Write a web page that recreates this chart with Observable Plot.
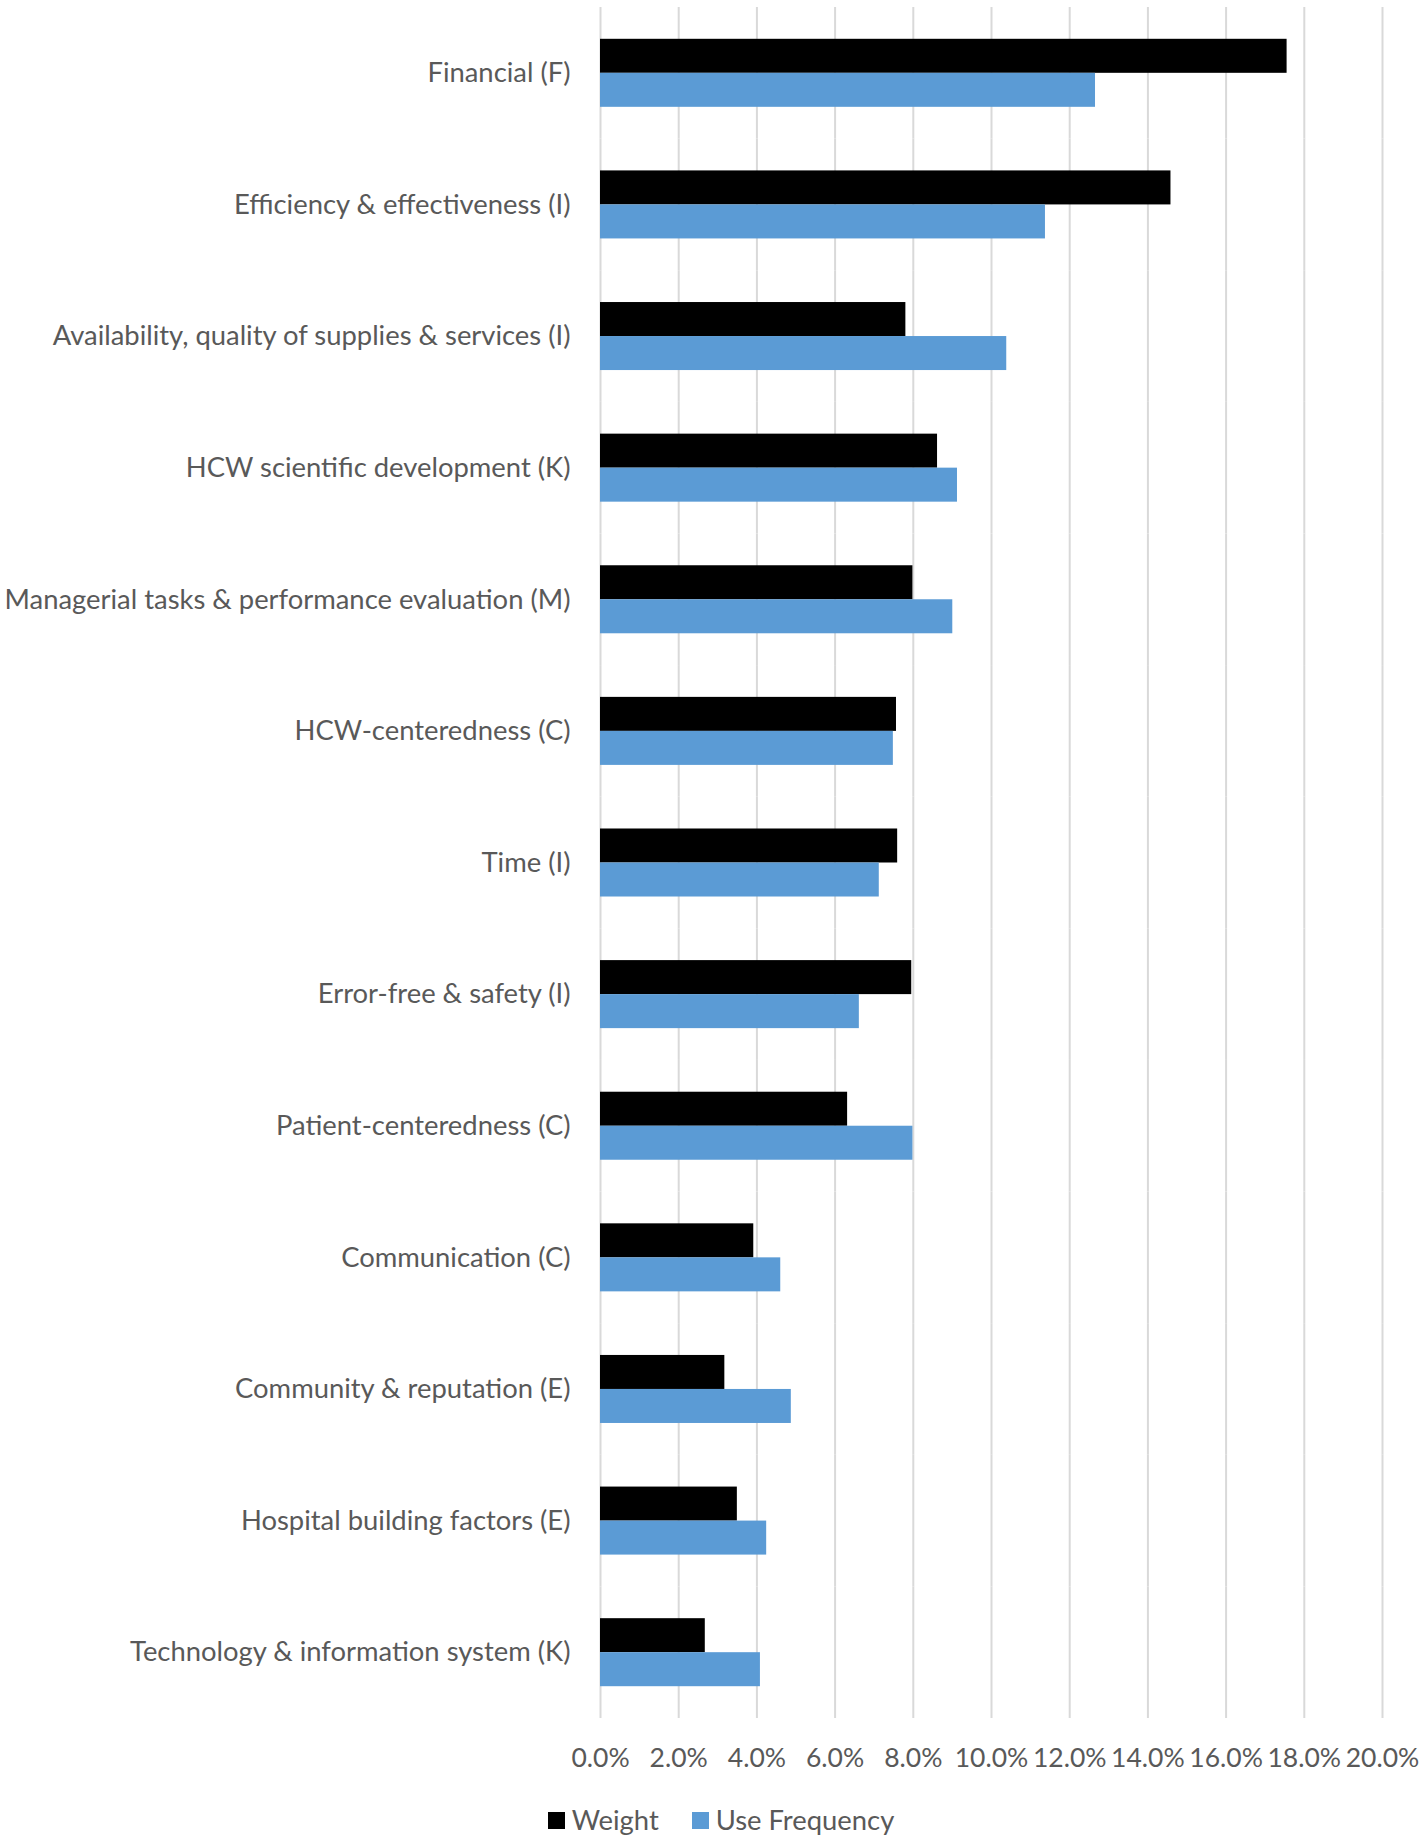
<!DOCTYPE html>
<html><head><meta charset="utf-8">
<script src="https://cdn.jsdelivr.net/npm/d3@7"></script>
<script src="https://cdn.jsdelivr.net/npm/@observablehq/plot@0.6"></script>
<style>
body{margin:0;background:#fff;font-family:Lato,sans-serif;}
#legend{display:flex;justify-content:center;align-items:center;gap:33px;font-size:27.4px;color:#595959;margin-top:14px;padding-left:18px;line-height:32px;}
#legend .item{display:flex;align-items:center;gap:7px;}
#legend .sw{width:17px;height:17px;display:inline-block;}
</style></head><body><div id="chart"></div><div id="legend"></div>
<script>
const categories = [
  "Financial (F)",
  "Efficiency & effectiveness (I)",
  "Availability, quality of supplies & services (I)",
  "HCW scientific development (K)",
  "Managerial tasks & performance evaluation (M)",
  "HCW-centeredness (C)",
  "Time (I)",
  "Error-free & safety (I)",
  "Patient-centeredness (C)",
  "Communication (C)",
  "Community & reputation (E)",
  "Hospital building factors (E)",
  "Technology & information system (K)"
];
const weight =       [17.56, 14.59, 7.81, 8.62, 7.99, 7.57, 7.60, 7.96, 6.32, 3.92, 3.18, 3.50, 2.68];
const useFrequency = [12.66, 11.38, 10.39, 9.13, 9.01, 7.49, 7.13, 6.62, 7.99, 4.61, 4.88, 4.25, 4.09];
const seriesNames = ["Weight", "Use Frequency"];
const seriesColors = ["#000000", "#5B9BD5"];
const xTicks = [0, 2, 4, 6, 8, 10, 12, 14, 16, 18, 20];

const data = categories.flatMap((c, i) => [
  {category: c, series: seriesNames[0], value: weight[i]},
  {category: c, series: seriesNames[1], value: useFrequency[i]}
]);

const plot = Plot.plot({
  width: 1424, height: 1790,
  marginTop: 7, marginBottom: 72, marginLeft: 600, marginRight: 42,
  style: {fontFamily: "Lato, sans-serif", fontSize: "27.4px", color: "#595959", background: "#fff"},
  x: {domain: [0, 20], round: false},
  fy: {domain: categories, padding: 0, round: false},
  y: {domain: seriesNames, axis: null, paddingInner: 0, paddingOuter: 0.935, round: false},
  color: {domain: seriesNames, range: seriesColors},
  marks: [
    Plot.ruleX(xTicks, {stroke: "#d9d9d9", strokeWidth: 2}),
    Plot.barX(data, {fy: "category", y: "series", x: "value", fill: "series"}),
    Plot.axisFy({anchor: "left", label: null, tickSize: 0, tickPadding: 30, fontSize: 27.4}),
    Plot.axisX(xTicks, {anchor: "bottom", label: null, tickFormat: d => d.toFixed(1) + "%", tickSize: 0, tickPadding: 30, fontSize: 26.5})
  ]
});
document.getElementById("chart").appendChild(plot);

const legend = document.getElementById("legend");
seriesNames.forEach((s, i) => {
  const it = document.createElement("div");
  it.className = "item";
  const sw = document.createElement("span");
  sw.className = "sw";
  sw.style.background = seriesColors[i];
  const t = document.createElement("span");
  t.textContent = s;
  it.appendChild(sw); it.appendChild(t);
  legend.appendChild(it);
});
</script></body></html>
